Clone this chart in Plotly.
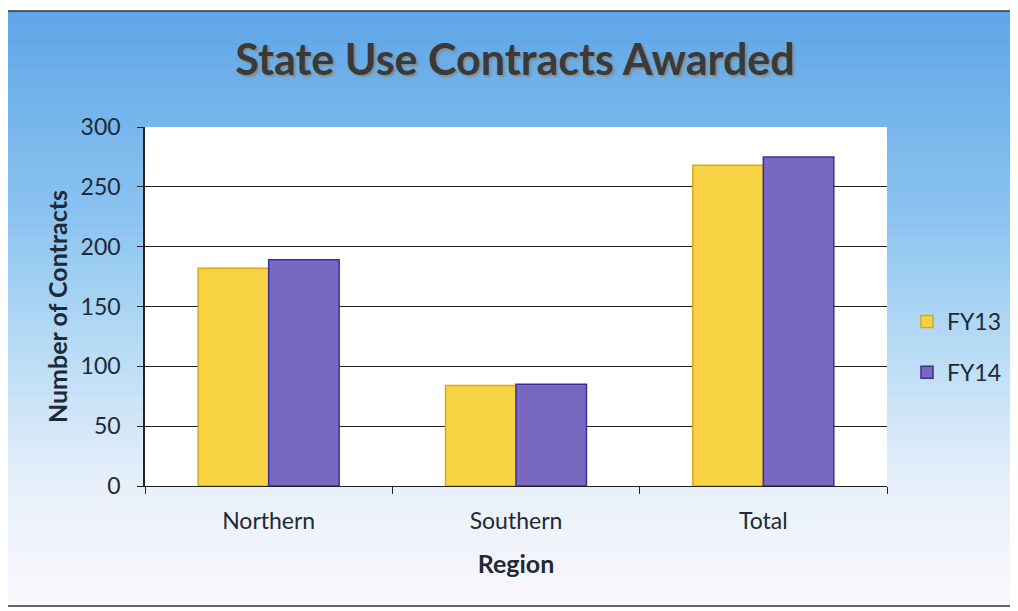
import plotly.graph_objects as go

regions = ["Northern", "Southern", "Total"]
fy13 = [182, 84, 268]
fy14 = [189, 85, 275]
series_names = ["FY13", "FY14"]
y_ticks = [0, 50, 100, 150, 200, 250, 300]

FONT = "Lato"
TXT = "#1e2a36"

fig = go.Figure()
fig.add_trace(go.Bar(
    name=series_names[0], x=regions, y=fy13,
    marker=dict(color="#f7d344", line=dict(color="#d9a91a", width=1.5)),
    legendgroup="a",
))
fig.add_trace(go.Bar(
    name=series_names[1], x=regions, y=fy14,
    marker=dict(color="#7868c2", line=dict(color="#3d2e96", width=1.5)),
    legendgroup="b",
))

# page is offset by 8px (body margin); work in screen coords
OFF = 8
W, H = 1010, 603
ml, mr, mt, mb = 137, 130, 119, 125
pw = W - ml - mr
ph = H - mt - mb


def px(sx):
    return (sx - OFF - ml) / pw


def py(sy):
    return (H - mb - (sy - OFF)) / ph


def lerp(c1, c2, t):
    return tuple(int(round(a + (b - a) * t)) for a, b in zip(c1, c2))


stops = [(0.0, (92, 164, 230)), (0.35, (138, 195, 240)), (0.6, (190, 222, 246)),
         (0.8, (232, 240, 250)), (1.0, (252, 248, 252))]
shapes = []
N = 80
SH = 611.0
for i in range(N):
    f0 = i / N
    f1 = (i + 1) / N
    t = (f0 + f1) / 2
    for j in range(len(stops) - 1):
        if stops[j][0] <= t <= stops[j + 1][0]:
            tt = (t - stops[j][0]) / (stops[j + 1][0] - stops[j][0])
            c = lerp(stops[j][1], stops[j + 1][1], tt)
            break
    shapes.append(dict(type="rect", xref="paper", yref="paper",
                       x0=px(7), x1=px(1040),
                       y0=py(f1 * SH) - 0.003, y1=py(f0 * SH) + 0.003,
                       fillcolor="rgb(%d,%d,%d)" % c, line=dict(width=0), layer="below"))
# white margin outside the scanned border
for (a, b, c_, d) in [(0, 0, 7, 620), (0, 0, 1040, 11), (0, 606, 1040, 620)]:
    shapes.append(dict(type="rect", xref="paper", yref="paper",
                       x0=px(a), x1=px(c_), y0=py(d), y1=py(b),
                       fillcolor="white", line=dict(width=0), layer="below"))
shapes.append(dict(type="rect", xref="x domain", yref="y domain", x0=0, x1=1, y0=0, y1=1,
                   fillcolor="white", line=dict(width=0), layer="below"))
# scan border
shapes.append(dict(type="rect", xref="paper", yref="paper",
                   x0=px(7), x1=px(1040), y0=py(606), y1=py(11),
                   fillcolor="rgba(0,0,0,0)", line=dict(color="#333333", width=1.5), layer="below"))

fig.update_layout(
    width=W, height=H,
    margin=dict(l=ml, r=mr, t=mt, b=mb),
    paper_bgcolor="white", plot_bgcolor="white",
    barmode="group", bargap=0.43, bargroupgap=0,
    shapes=shapes,
    font=dict(family=FONT, color=TXT, size=23),
    title=dict(text="<b>State Use Contracts Awarded</b>", x=(515 - OFF) / W, xanchor="center",
               y=1 - (60 - OFF) / H, yanchor="middle",
               font=dict(family=FONT, size=43, color="#3a3a3a", shadow="2px 2px 2px #8a8a8a")),
    legend=dict(x=px(907), xanchor="left", y=py(347), yanchor="middle",
                bgcolor="rgba(0,0,0,0)", font=dict(size=23, color=TXT),
                tracegroupgap=18, itemwidth=30, traceorder="grouped"),
    xaxis=dict(
        title=dict(text="<b>Region</b>", font=dict(size=25, color=TXT), standoff=22),
        showline=True, linecolor="#222222", linewidth=1,
        ticks="outside", tickson="boundaries", ticklen=7, tickcolor="#222222",
        ticklabelstandoff=14,
        showgrid=False,
    ),
    yaxis=dict(
        title=dict(text="<b>Number of Contracts</b>", font=dict(size=25, color=TXT), standoff=6),
        range=[0, 300], tickvals=y_ticks,
        showline=True, linecolor="#222222", linewidth=1.5,
        ticks="outside", ticklen=6, tickcolor="#222222",
        ticklabelstandoff=12,
        showgrid=True, gridcolor="#222222", gridwidth=1,
        zeroline=False,
    ),
)

fig.write_html("out.html")
